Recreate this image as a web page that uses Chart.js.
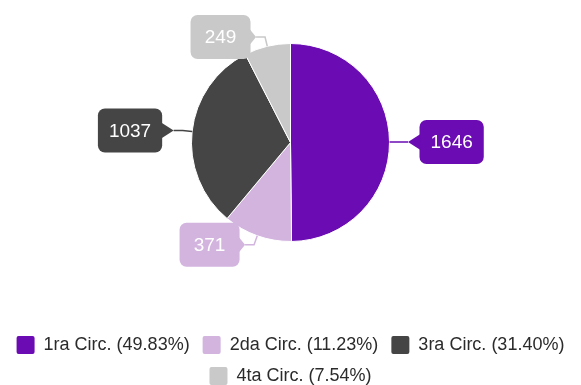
<!DOCTYPE html>
<html>
<head>
<meta charset="utf-8">
<script src="https://cdn.jsdelivr.net/npm/chart.js@4.4.1/dist/chart.umd.min.js"></script>
<style>
  html, body { margin: 0; padding: 0; background: #fff; }
</style>
</head>
<body>
<canvas id="pieChart" width="581" height="385"></canvas>
<script>
const circs = ['1ra Circ.', '2da Circ.', '3ra Circ.', '4ta Circ.'];
const votes = [1646, 371, 1037, 249];
const sliceColors = ['#6a0bb3', '#d2b4df', '#454545', '#c9c9c9'];

const total = votes.reduce((a, b) => a + b, 0);
const fontFamily = '"Liberation Sans", Arial, sans-serif';

// value callouts: leader line bent out of each slice into a rounded tag
const calloutPlugin = {
  id: 'callouts',
  afterDatasetsDraw(chart) {
    const ctx = chart.ctx;
    const meta = chart.getDatasetMeta(0);
    ctx.save();
    ctx.font = '19px ' + fontFamily;
    ctx.textBaseline = 'middle';
    ctx.textAlign = 'center';
    meta.data.forEach((arc, i) => {
      const p = arc.getProps(['x', 'y', 'startAngle', 'endAngle', 'outerRadius'], true);
      const mid = (p.startAngle + p.endAngle) / 2;
      const cos = Math.cos(mid), sin = Math.sin(mid);
      const dir = cos >= 0 ? 1 : -1;
      const ex = p.x + cos * p.outerRadius, ey = p.y + sin * p.outerRadius;
      const kx = p.x + cos * (p.outerRadius + 9.5), ky = p.y + sin * (p.outerRadius + 9.5);
      const tx = kx + dir * 9, ty = ky;
      const color = sliceColors[i];

      ctx.strokeStyle = color;
      ctx.lineWidth = 1.5;
      ctx.beginPath();
      ctx.moveTo(ex, ey);
      ctx.lineTo(kx, ky);
      ctx.lineTo(tx, ty);
      ctx.stroke();

      const text = String(votes[i]);
      const w = Math.max(ctx.measureText(text).width + 22, 60);
      const h = 44;
      const tip = Math.abs(cos) > 0.7 ? 11.5 : 5.5;
      const bx = dir > 0 ? tx + tip : tx - tip - w;
      const by = ty - h / 2;

      ctx.fillStyle = color;
      ctx.beginPath();
      ctx.roundRect(bx, by, w, h, 7);
      ctx.fill();

      const side = dir > 0 ? bx + 1 : bx + w - 1;
      ctx.beginPath();
      ctx.moveTo(side, ty - 8);
      ctx.lineTo(tx, ty);
      ctx.lineTo(side, ty + 8);
      ctx.closePath();
      ctx.fill();

      ctx.fillStyle = '#ffffff';
      ctx.fillText(text, bx + w / 2, ty + 1);
    });
    ctx.restore();
  }
};

new Chart(document.getElementById('pieChart'), {
  type: 'pie',
  data: {
    labels: circs,
    datasets: [{
      data: votes,
      backgroundColor: sliceColors,
      borderColor: '#ffffff',
      borderWidth: 1,
      radius: 99
    }]
  },
  options: {
    responsive: false,
    animation: false,
    layout: {
      padding: { bottom: -10 }
    },
    plugins: {
      legend: {
        position: 'bottom',
        // empty title used as a spacer between pie and legend rows
        title: {
          display: true,
          text: '',
          font: { size: 10, lineHeight: 1 },
          padding: { top: 28, bottom: 0 }
        },
        labels: {
          boxWidth: 18,
          boxHeight: 18,
          padding: 13,
          color: '#2b2b2b',
          font: { size: 18, family: fontFamily },
          useBorderRadius: true,
          borderRadius: 2,
          generateLabels(chart) {
            return circs.map((name, i) => ({
              text: name + ' (' + (votes[i] / total * 100).toFixed(2) + '%)',
              fillStyle: sliceColors[i],
              strokeStyle: sliceColors[i],
              fontColor: '#2b2b2b',
              lineWidth: 0,
              borderRadius: 2,
              hidden: false,
              index: i
            }));
          }
        }
      },
      tooltip: { enabled: false }
    }
  },
  plugins: [calloutPlugin]
});
</script>
</body>
</html>
